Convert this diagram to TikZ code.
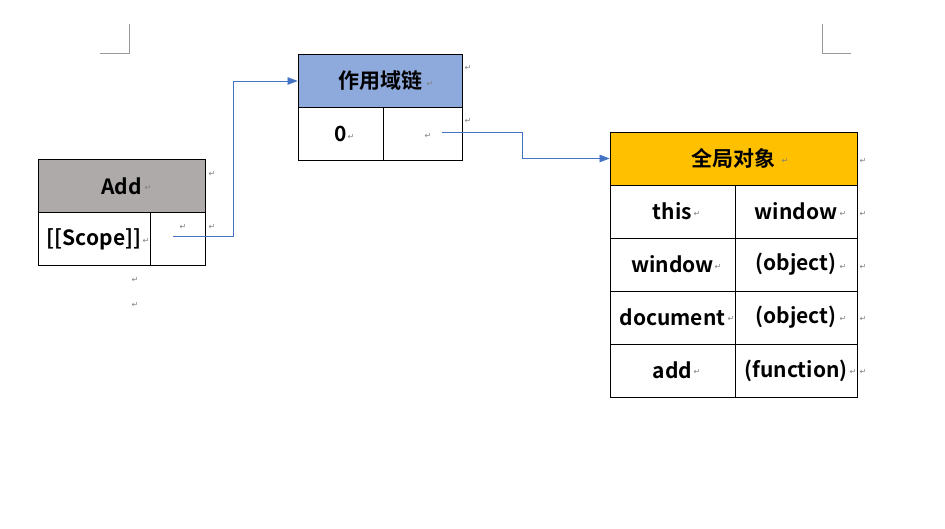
\documentclass[tikz,border=0pt]{standalone}
\usepackage{fontspec}
\setmainfont{Noto Sans CJK SC Bold}
\newfontfamily\markfont{DejaVu Sans}
\usetikzlibrary{arrows.meta}

\definecolor{addgray}{HTML}{AEAAAA}
\definecolor{chainblue}{HTML}{8EA9DB}
\definecolor{globalgold}{HTML}{FFC000}
\definecolor{linkblue}{HTML}{4472C4}

\tikzstyle{cell}=[draw, line width=0.8pt, inner sep=0pt, minimum height=53pt, font=\fontsize{21}{24}\selectfont]
\tikzstyle{pmark}=[inner sep=0pt, text=gray, font=\markfont\fontsize{8}{8}\selectfont]
\tikzstyle{link}=[linkblue, line width=0.7pt, -{Triangle[length=10pt,width=7.5pt]}]
\tikzstyle{corner}=[gray!80, line width=0.6pt]

\newcommand{\parmark}{↵}

\begin{document}
\begin{tikzpicture}[x=1pt,y=-1pt]
            \useasboundingbox (0,0) rectangle (945,529);
            % page corners
            \draw[corner] (100,53) -- (129,53) -- (129,24);
            \draw[corner] (822,24) -- (822,53) -- (851,53);
            % Add
            \node[cell, fill=addgray, minimum width=167pt] at (121.5,186) (addhead) {Add};
            \node[cell, minimum width=112pt] at (94,239) (scopekey) {[[Scope]]};
            \node[cell, minimum width=55pt] at (177.5,239) (scopeval) {};
            % scope chain
            \node[cell, fill=chainblue, minimum width=164pt] at (380,81) (chainhead) {作用域链};
            \node[cell, minimum width=85pt] at (340.5,134) (chainkey) {0};
            \node[cell, minimum width=79pt] at (422.5,134) (chainval) {};
            % global object
            \node[cell, fill=globalgold, minimum width=247pt] at (733.5,158.5) (globalhead) {全局对象};
            \node[cell, minimum width=125pt] at (672.5,211.5) (k1) {this};
            \node[cell, minimum width=122pt] at (796,211.5) (v1) {window};
            \node[cell, minimum width=125pt] at (672.5,264.5) (k2) {window};
            \node[cell, minimum width=122pt] at (796,264.5) (v2) {(object)};
            \node[cell, minimum width=125pt] at (672.5,317.5) (k3) {document};
            \node[cell, minimum width=122pt] at (796,317.5) (v3) {(object)};
            \node[cell, minimum width=125pt] at (672.5,370.5) (k4) {add};
            \node[cell, minimum width=122pt] at (796,370.5) (v4) {(function)};
            % paragraph marks
            \node[pmark] at (148,188) {\parmark};
            \node[pmark] at (212,174) {\parmark};
            \node[pmark] at (146,241) {\parmark};
            \node[pmark] at (183,227) {\parmark};
            \node[pmark] at (212,227) {\parmark};
            \node[pmark] at (135,280) {\parmark};
            \node[pmark] at (135,305) {\parmark};
            \node[pmark] at (430,84) {\parmark};
            \node[pmark] at (468,68) {\parmark};
            \node[pmark] at (351,137) {\parmark};
            \node[pmark] at (428,136) {\parmark};
            \node[pmark] at (468,121) {\parmark};
            \node[pmark] at (785,161) {\parmark};
            \node[pmark] at (863,161) {\parmark};
            \node[pmark] at (697,214) {\parmark};
            \node[pmark] at (843,214) {\parmark};
            \node[pmark] at (863,214) {\parmark};
            \node[pmark] at (718,267) {\parmark};
            \node[pmark] at (843,267) {\parmark};
            \node[pmark] at (863,267) {\parmark};
            \node[pmark] at (731,319) {\parmark};
            \node[pmark] at (843,319) {\parmark};
            \node[pmark] at (863,319) {\parmark};
            \node[pmark] at (697,372) {\parmark};
            \node[pmark] at (853,372) {\parmark};
            \node[pmark] at (863,372) {\parmark};
            % links
            \coordinate (a1) at (173,236);
            \coordinate (a2) at (442,132);
            \draw[link] (a1) -- ++(60,0) |- (chainhead.west);
            \draw[link] (a2) -- ++(80,0) |- (globalhead.west);
        \end{tikzpicture}
\end{document}
